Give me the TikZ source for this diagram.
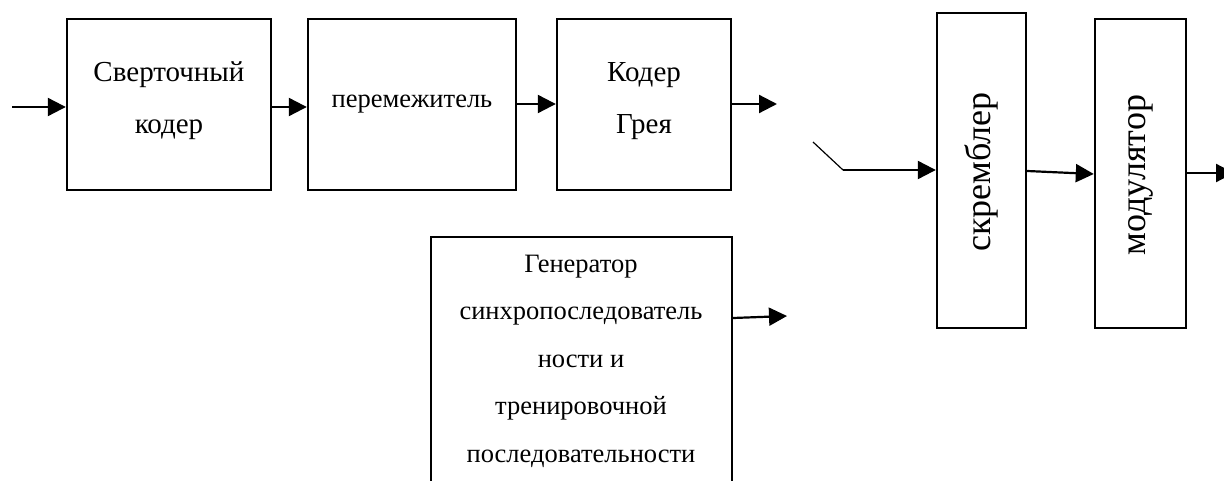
\documentclass[tikz,border=0pt]{standalone}
\usepackage{fontspec}
\setmainfont{Liberation Serif}
\usetikzlibrary{arrows.meta}
\begin{document}
\begin{tikzpicture}[x=1pt,y=-1pt,
  blk/.style={draw=black, line width=2.4pt, inner sep=0pt},
  bigtxt/.style={font=\fontsize{29}{52}\selectfont, align=center, inner sep=0pt},
  midtxt/.style={font=\fontsize{26.5}{47.5}\selectfont, align=center, inner sep=0pt},
  vtxt/.style={font=\fontsize{36}{40}\selectfont, rotate=90, inner sep=0pt},
  arr/.style={line width=2.2pt, -{Triangle[length=18pt,width=18pt]}},
  thin/.style={line width=1.2pt}]
\useasboundingbox (0,0) rectangle (1224,481);
% boxes
\node[blk, minimum width=204pt, minimum height=171pt] (conv) at (169,104.5) {};
\node[bigtxt] (convt) at (169,101) {Сверточный\\кодер};
\node[blk, minimum width=208pt, minimum height=171pt] (perm) at (412,104.5) {};
\node[midtxt] (permt) at (412,104.5) {перемежитель};
\node[blk, minimum width=174pt, minimum height=171pt] (gray) at (644,104.5) {};
\node[bigtxt] (grayt) at (644,101) {Кодер\\Грея};
\node[blk, minimum width=89pt, minimum height=315pt] (scr) at (981.5,170.5) {};
\node[vtxt] (scrt) at (981.5,172) {скремблер};
\node[blk, minimum width=91pt, minimum height=309pt] (mod) at (1140.5,173.5) {};
\node[vtxt] (modt) at (1140.5,175) {модулятор};
\node[blk, minimum width=301pt, minimum height=263pt] (gen) at (581.5,368.5) {};
\node[midtxt] (gent) at (581,361) {Генератор\\синхропоследователь\\ности и\\тренировочной\\последовательности};
% coordinates
\coordinate (in) at (12,107);
\coordinate (grayout) at (777,104);
\coordinate (genout) at (787,316);
\coordinate (d1) at (813,142);
\coordinate (d2) at (843,170);
\coordinate (modout) at (1234,173);
% connectors
\draw[arr] (in) -- (in -| conv.west);
\draw[arr] ([yshift=-2.5pt]conv.east) -- ([yshift=-2.5pt]perm.west);
\draw[arr] ([yshift=0.5pt]perm.east) -- ([yshift=0.5pt]gray.west);
\draw[arr] (grayout -| gray.east) -- (grayout);
\draw[arr] ([yshift=50.5pt]gen.east) -- (genout);
\draw[thin] (d1) -- (d2);
\draw[arr] (d2) -- (d2 -| scr.west);
\draw[arr] ([yshift=-0.5pt]scr.east) -- ([yshift=-0.5pt]mod.west);
\draw[arr] (modout -| mod.east) -- (modout);
\end{tikzpicture}
\end{document}
